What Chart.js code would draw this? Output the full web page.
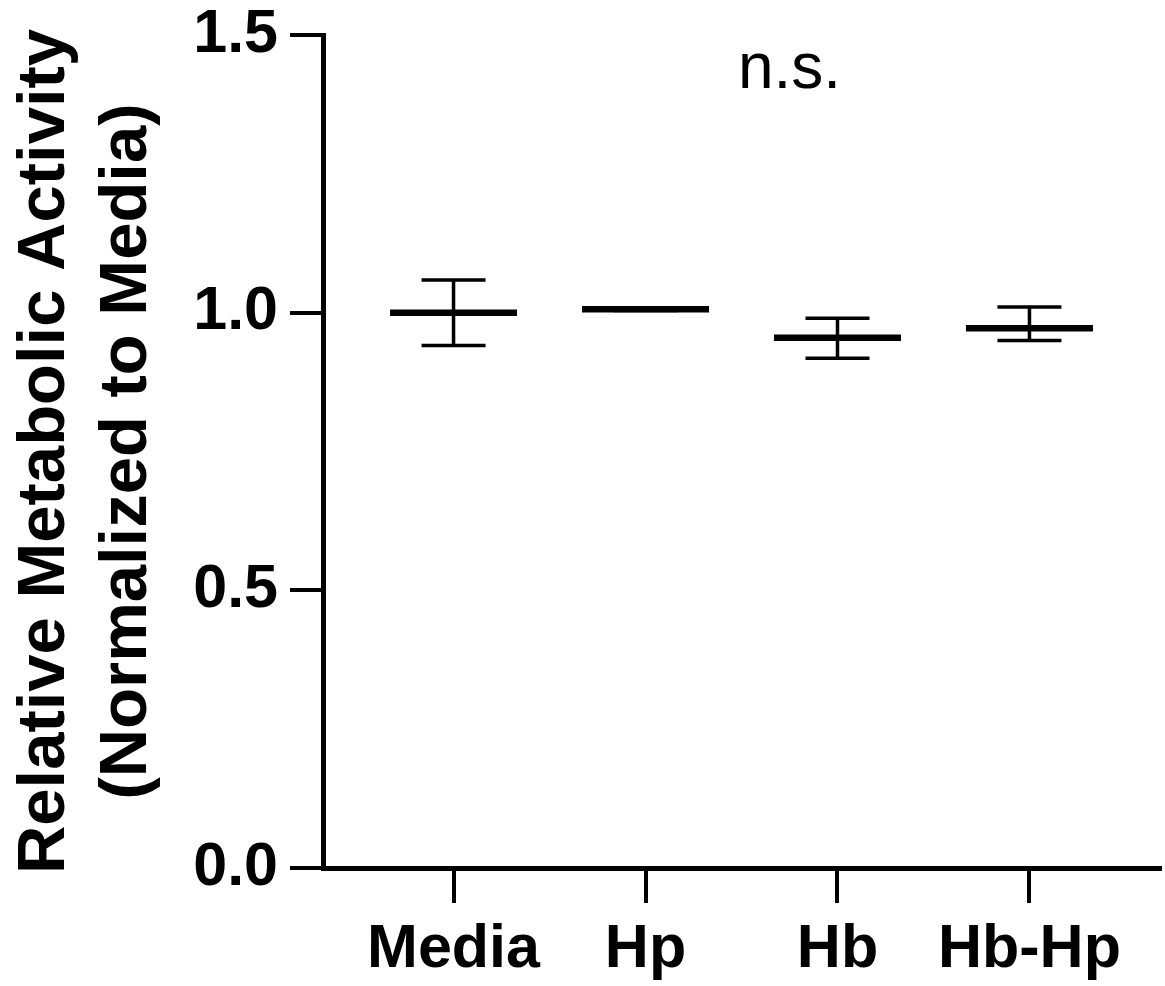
<!DOCTYPE html>
<html>
<head>
<meta charset="utf-8">
<script src="https://cdn.jsdelivr.net/npm/chart.js@4/dist/chart.umd.min.js"></script>
<style>
  html, body { margin: 0; padding: 0; background: #fff; }
  #wrap { width: 1165px; height: 986px; position: relative; }
</style>
</head>
<body>
<div id="wrap"><canvas id="the-chart"></canvas></div>
<script>
//
// Relative metabolic activity, mean with error bars
//

const groups = ['Media', 'Hp', 'Hb', 'Hb-Hp'];
const means = [1.000, 1.006, 0.955, 0.972];
const upper = [1.059, 1.008, 0.990, 1.010];
const lower = [0.941, 1.004, 0.918, 0.950];
const yTicks = [0, 0.5, 1.0, 1.5];
const yTitle = ['Relative Metabolic Activity', '(Normalized to Media)'];
const sigLabel = 'n.s.';
const sigPos = { x: 1.75, y: 1.405 };

const fontFamily = '"Liberation Sans", Arial, Helvetica, sans-serif';

// Means, caps and stems all go through the linear scales.
const meanData = groups.map((g, i) => ({ x: i, y: means[i] }));
const capData = [];
const stemData = [];
groups.forEach((g, i) => {
  capData.push({ x: i, y: upper[i] }, { x: i, y: lower[i] });
  stemData.push({ x: i, y: lower[i] }, { x: i, y: upper[i] }, { x: i, y: null });
});

const sigPlugin = {
  id: 'sigLabel',
  afterDatasetsDraw(chart) {
    const { ctx, scales } = chart;
    ctx.save();
    ctx.font = `64px ${fontFamily}`;
    ctx.fillStyle = '#000';
    ctx.textAlign = 'center';
    ctx.textBaseline = 'alphabetic';
    ctx.fillText(sigLabel, scales.x.getPixelForValue(sigPos.x), scales.y.getPixelForValue(sigPos.y));
    ctx.restore();
  }
};

const ctx = document.getElementById('the-chart');
new Chart(ctx, {
  type: 'scatter',
  data: {
    datasets: [
      {
        label: 'mean',
        data: meanData,
        order: 0,
        showLine: false,
        pointStyle: 'line',
        pointRadius: 63.5,
        pointHoverRadius: 63.5,
        pointBorderWidth: 6.5,
        pointBorderColor: '#000',
        pointBackgroundColor: '#000'
      },
      {
        label: 'caps',
        data: capData,
        order: 1,
        showLine: false,
        pointStyle: 'line',
        pointRadius: 32,
        pointHoverRadius: 32,
        pointBorderWidth: 3.5,
        pointBorderColor: '#000',
        pointBackgroundColor: '#000'
      },
      {
        label: 'stems',
        data: stemData,
        order: 2,
        showLine: true,
        spanGaps: false,
        pointRadius: 0,
        pointHoverRadius: 0,
        borderWidth: 3.5,
        borderColor: '#000'
      }
    ]
  },
  options: {
    responsive: true,
    maintainAspectRatio: false,
    animation: false,
    events: [],
    layout: {
      autoPadding: false,
      padding: { top: 35, right: 5, left: 0, bottom: 0 }
    },
    plugins: {
      legend: { display: false },
      tooltip: { enabled: false }
    },
    scales: {
      x: {
        type: 'linear',
        min: -0.68,
        max: 3.68,
        afterBuildTicks(scale) {
          scale.ticks = groups.map((g, i) => ({ value: i }));
        },
        afterFit(scale) {
          scale.height = 118;
          scale.paddingLeft = 0;
          scale.paddingRight = 0;
        },
        ticks: {
          color: '#000',
          padding: 11,
          maxRotation: 0,
          font: { family: fontFamily, size: 61, weight: 'bold' },
          callback: (v) => groups[v]
        },
        grid: {
          display: true,
          drawOnChartArea: false,
          drawTicks: true,
          tickLength: 35,
          lineWidth: 4,
          color: '#000'
        },
        border: { display: true, color: '#000', width: 5 }
      },
      y: {
        type: 'linear',
        min: 0,
        max: 1.5,
        afterBuildTicks(scale) {
          scale.ticks = yTicks.map((v) => ({ value: v }));
        },
        afterFit(scale) {
          scale.width = 323;
          scale.paddingTop = 0;
          scale.paddingBottom = 0;
        },
        ticks: {
          color: '#000',
          padding: 12,
          font: { family: fontFamily, size: 61, weight: 'bold' },
          callback: (v) => v.toFixed(1)
        },
        grid: {
          display: true,
          drawOnChartArea: false,
          drawTicks: true,
          tickLength: 33,
          lineWidth: 4,
          color: '#000'
        },
        border: { display: true, color: '#000', width: 5 },
        title: {
          display: true,
          text: yTitle,
          color: '#000',
          padding: { top: 5, bottom: 0 },
          font: { family: fontFamily, size: 67, weight: 'bold', lineHeight: 1.224 }
        }
      }
    }
  },
  plugins: [sigPlugin]
});
</script>
</body>
</html>
